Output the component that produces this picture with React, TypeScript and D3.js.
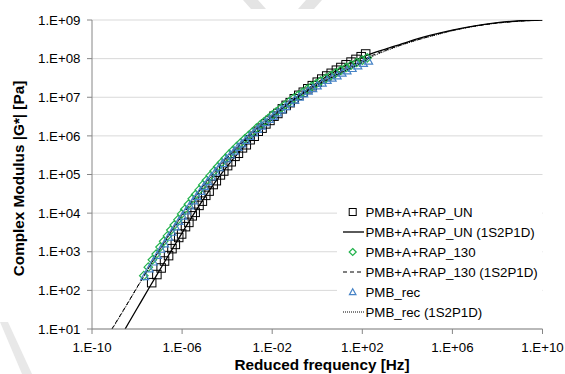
import React from "react";
import * as d3 from "d3";

// log10 values
const unLogF = [-7.35, -7.12, -6.93, -6.78, -6.6, -6.45, -6.3, -6.15, -6.02, -5.85, -5.7, -5.55, -5.42, -5.25, -5.1, -4.95, -4.8, -4.62, -4.48, -4.3, -4.15, -3.98, -3.82, -3.65, -3.5, -3.32, -3.15, -2.98, -2.8, -2.62, -2.45, -2.28, -2.1, -1.92, -1.75, -1.55, -1.38, -1.2, -1.02, -0.82, -0.62, -0.42, -0.22, 0.0, 0.2, 0.42, 0.62, 0.85, 1.05, 1.28, 1.5, 1.72, 1.95, 2.15];
const unLogG = [2.2, 2.41, 2.58, 2.76, 2.9, 3.08, 3.19, 3.37, 3.46, 3.65, 3.76, 3.93, 4.02, 4.2, 4.31, 4.46, 4.57, 4.74, 4.84, 4.99, 5.09, 5.23, 5.33, 5.47, 5.55, 5.69, 5.77, 5.9, 5.99, 6.12, 6.2, 6.31, 6.4, 6.51, 6.58, 6.7, 6.79, 6.86, 6.96, 7.05, 7.13, 7.22, 7.3, 7.39, 7.47, 7.55, 7.62, 7.7, 7.77, 7.84, 7.91, 7.98, 8.05, 8.12];

const r130LogF = [-7.7, -7.5, -7.32, -7.15, -6.98, -6.82, -6.65, -6.5, -6.35, -6.18, -6.02, -5.88, -5.72, -5.55, -5.4, -5.24, -5.08, -4.92, -4.75, -4.58, -4.42, -4.25, -4.08, -3.92, -3.75, -3.58, -3.4, -3.22, -3.05, -2.88, -2.7, -2.52, -2.35, -2.18, -2.0, -1.82, -1.62, -1.45, -1.25, -1.05, -0.85, -0.65, -0.45, -0.25, -0.05, 0.15, 0.38, 0.6, 0.82, 1.05, 1.28, 1.5, 1.75, 2.0, 2.22];
const r130LogG = [2.38, 2.6, 2.79, 2.94, 3.12, 3.27, 3.41, 3.56, 3.69, 3.83, 3.98, 4.1, 4.23, 4.37, 4.48, 4.6, 4.73, 4.85, 4.97, 5.09, 5.2, 5.31, 5.42, 5.52, 5.62, 5.72, 5.82, 5.92, 6.01, 6.1, 6.2, 6.29, 6.37, 6.45, 6.54, 6.62, 6.71, 6.79, 6.88, 6.97, 7.05, 7.13, 7.21, 7.28, 7.35, 7.42, 7.49, 7.56, 7.63, 7.7, 7.77, 7.83, 7.9, 7.96, 8.02];

const recLogF = [-7.66, -7.46, -7.28, -7.1, -6.94, -6.78, -6.6, -6.45, -6.3, -6.14, -5.98, -5.82, -5.66, -5.5, -5.35, -5.18, -5.02, -4.86, -4.7, -4.52, -4.36, -4.2, -4.02, -3.85, -3.68, -3.52, -3.35, -3.18, -3.0, -2.82, -2.65, -2.48, -2.3, -2.12, -1.95, -1.76, -1.58, -1.4, -1.2, -1.0, -0.8, -0.6, -0.4, -0.2, 0.0, 0.22, 0.44, 0.66, 0.88, 1.1, 1.32, 1.55, 1.8, 2.05, 2.28];
const recLogG = [2.36, 2.56, 2.74, 2.91, 3.07, 3.21, 3.38, 3.51, 3.65, 3.79, 3.93, 4.06, 4.19, 4.32, 4.44, 4.57, 4.7, 4.82, 4.94, 5.07, 5.18, 5.29, 5.41, 5.51, 5.61, 5.71, 5.8, 5.89, 5.99, 6.08, 6.17, 6.26, 6.35, 6.43, 6.51, 6.6, 6.68, 6.76, 6.85, 6.93, 7.01, 7.09, 7.16, 7.23, 7.3, 7.37, 7.44, 7.5, 7.56, 7.63, 7.69, 7.75, 7.82, 7.88, 7.94];

// 1S2P1D fitted curves
const unFitLogF = [-8.53, -8.0, -7.5, -7.0, -6.5, -6.0, -5.5, -5.0, -4.5, -4.0, -3.5, -3.0, -2.5, -2.0, -1.5, -1.0, -0.5, 0, 0.5, 1.0, 1.5, 2.0, 2.5, 3.0, 4.0, 5.0, 6.0, 7.0, 8.0, 9.0, 10.0];
const unFitLogG = [1.0, 1.53, 2.03, 2.52, 3.01, 3.49, 3.96, 4.41, 4.83, 5.21, 5.56, 5.88, 6.18, 6.46, 6.72, 6.96, 7.18, 7.38, 7.57, 7.74, 7.9, 8.04, 8.15, 8.24, 8.43, 8.6, 8.74, 8.85, 8.93, 8.98, 9.0];
const r130FitLogF = [-9.12, -8.5, -8.0, -7.5, -7.0, -6.5, -6.0, -5.5, -5.0, -4.5, -4.0, -3.5, -3.0, -2.5, -2.0, -1.5, -1.0, -0.5, 0, 0.5, 1.0, 1.5, 2.0, 2.5, 3.0, 4.0, 5.0, 6.0, 7.0, 8.0, 9.0, 10.0];
const r130FitLogG = [1.0, 1.59, 2.08, 2.57, 3.06, 3.52, 3.96, 4.37, 4.76, 5.13, 5.46, 5.76, 6.03, 6.29, 6.53, 6.76, 6.98, 7.18, 7.36, 7.52, 7.67, 7.81, 7.95, 8.1, 8.21, 8.41, 8.58, 8.73, 8.84, 8.92, 8.97, 9.0];
const recFitLogF = [-9.1, -8.5, -8.0, -7.5, -7.0, -6.5, -6.0, -5.5, -5.0, -4.5, -4.0, -3.5, -3.0, -2.5, -2.0, -1.5, -1.0, -0.5, 0, 0.5, 1.0, 1.5, 2.0, 2.5, 3.0, 4.0, 5.0, 6.0, 7.0, 8.0, 9.0, 10.0];
const recFitLogG = [1.0, 1.58, 2.07, 2.55, 3.03, 3.49, 3.93, 4.34, 4.73, 5.1, 5.43, 5.73, 6.0, 6.26, 6.5, 6.73, 6.95, 7.14, 7.32, 7.48, 7.62, 7.76, 7.9, 8.07, 8.19, 8.4, 8.57, 8.72, 8.84, 8.92, 8.97, 9.0];

const xTickValues = [1e-10, 1e-6, 1e-2, 1e2, 1e6, 1e10];
const xTickLabels = ["1.E-10", "1.E-06", "1.E-02", "1.E+02", "1.E+06", "1.E+10"];
const yTickValues = [1e1, 1e2, 1e3, 1e4, 1e5, 1e6, 1e7, 1e8, 1e9];
const yTickLabels = ["1.E+01", "1.E+02", "1.E+03", "1.E+04", "1.E+05", "1.E+06", "1.E+07", "1.E+08", "1.E+09"];

const legendLabels = [
  "PMB+A+RAP_UN",
  "PMB+A+RAP_UN (1S2P1D)",
  "PMB+A+RAP_130",
  "PMB+A+RAP_130 (1S2P1D)",
  "PMB_rec",
  "PMB_rec (1S2P1D)",
];

const W = 565;
const H = 374;
const font = "'Liberation Sans', Arial, sans-serif";
const GREEN = "#22b24c";
const BLUE = "#4683c6";

const toPts = (lf: number[], lg: number[]) => lf.map((f, i) => [Math.pow(10, f), Math.pow(10, lg[i])] as [number, number]);

function Marker({ kind, x, y, s }: { kind: string; x: number; y: number; s: number }) {
  if (kind === "square") {
    return <rect x={x - s / 2} y={y - s / 2} width={s} height={s} fill="none" stroke="#000" strokeWidth={1} />;
  }
  const r = s / 2;
  if (kind === "diamond") {
    return <path d={`M${x},${y - r}L${x + r},${y}L${x},${y + r}L${x - r},${y}Z`} fill="none" stroke={GREEN} strokeWidth={1.2} />;
  }
  return <path d={`M${x},${y - r}L${x + r},${y + r * 0.8}L${x - r},${y + r * 0.8}Z`} fill="none" stroke={BLUE} strokeWidth={1.2} />;
}

export default function App() {
  const x = d3.scaleLog().domain([1e-10, 1e10]).range([92, 542.5]);
  const y = d3.scaleLog().domain([1e1, 1e9]).range([329, 20]);
  const line = d3.line<[number, number]>().x((d) => x(d[0])).y((d) => y(d[1])).curve(d3.curveMonotoneX);

  const unPts = toPts(unLogF, unLogG);
  const r130Pts = toPts(r130LogF, r130LogG);
  const recPts = toPts(recLogF, recLogG);

  const legendRows = [
    { type: "marker", kind: "square" },
    { type: "line", dash: "", width: 1.3 },
    { type: "marker", kind: "diamond" },
    { type: "line", dash: "4,3", width: 1 },
    { type: "marker", kind: "triangle" },
    { type: "line", dash: "1,1", width: 1 },
  ];

  return (
    <svg width={W} height={H} style={{ position: "absolute", left: 0, top: 0, background: "#fff" }} fontFamily={font}>
      <defs>
        <clipPath id="plot">
          <rect x={92} y={20} width={450.5} height={309} />
        </clipPath>
      </defs>
      <rect width={W} height={H} fill="#fff" />

      {/* faint watermark pieces */}
      <path d="M243,0 L258,0 L266,9 L251,9 Z" fill="#e4e4e4" />
      <path d="M306,0 L322,0 L314,9 L298,9 Z" fill="#e4e4e4" />
      <path d="M0,322 L8,322 L32,374 L22,374 Z" fill="#e8e8e8" />

      {yTickValues.map((v) => (
        <line key={v} x1={92} x2={542.5} y1={y(v)} y2={y(v)} stroke="#d9d9d9" strokeWidth={1} />
      ))}

      <g clipPath="url(#plot)">
        <path d={line(toPts(unFitLogF, unFitLogG)) || ""} fill="none" stroke="#000" strokeWidth={1.3} />
      </g>
      <g>
        {unPts.map((d, i) => (
          <Marker key={i} kind="square" x={x(d[0])} y={y(d[1])} s={8.5} />
        ))}
      </g>
      <g clipPath="url(#plot)">
        <path d={line(toPts(r130FitLogF, r130FitLogG)) || ""} fill="none" stroke="#000" strokeWidth={1} strokeDasharray="4,3" />
      </g>
      <g>
        {r130Pts.map((d, i) => (
          <Marker key={i} kind="diamond" x={x(d[0])} y={y(d[1])} s={8.5} />
        ))}
      </g>
      <g>
        {recPts.map((d, i) => (
          <Marker key={i} kind="triangle" x={x(d[0])} y={y(d[1])} s={8} />
        ))}
      </g>
      <g clipPath="url(#plot)">
        <path d={line(toPts(recFitLogF, recFitLogG)) || ""} fill="none" stroke="#000" strokeWidth={1} strokeDasharray="1,1" />
      </g>

      {/* axes */}
      <line x1={92} x2={92} y1={20} y2={329} stroke="#868686" />
      <line x1={92} x2={542.5} y1={329} y2={329} stroke="#868686" />
      {yTickValues.map((v, i) => (
        <g key={v}>
          <line x1={87} x2={92} y1={y(v)} y2={y(v)} stroke="#868686" />
          <text x={80.5} y={y(v) + 4.7} textAnchor="end" fontSize={13.3} fill="#000">
            {yTickLabels[i]}
          </text>
        </g>
      ))}
      {xTickValues.map((v, i) => (
        <g key={v}>
          <line x1={x(v)} x2={x(v)} y1={329} y2={334} stroke="#868686" />
          <text x={x(v)} y={352} textAnchor="middle" fontSize={13.3} fill="#000">
            {xTickLabels[i]}
          </text>
        </g>
      ))}

      <text x={322} y={370} textAnchor="middle" fontSize={15.3} fontWeight="bold">
        Reduced frequency [Hz]
      </text>
      <text transform="translate(24,178.5) rotate(-90)" textAnchor="middle" fontSize={15.3} fontWeight="bold">
        Complex Modulus |G*| [Pa]
      </text>

      {/* legend */}
      <rect x={337} y={201} width={205} height={121} fill="#fff" />
      {legendRows.map((r, i) => {
        const cy = 212 + i * 20;
        return (
          <g key={i}>
            {r.type === "marker" ? (
              <Marker kind={r.kind as string} x={352.7} y={cy} s={r.kind === "triangle" ? 6.5 : 7} />
            ) : (
              <line x1={343} x2={364} y1={cy} y2={cy} stroke="#000" strokeWidth={r.width} strokeDasharray={r.dash || undefined} />
            )}
            <text x={365.5} y={cy + 4.7} fontSize={13.3} fill="#000">
              {legendLabels[i]}
            </text>
          </g>
        );
      })}
    </svg>
  );
}
